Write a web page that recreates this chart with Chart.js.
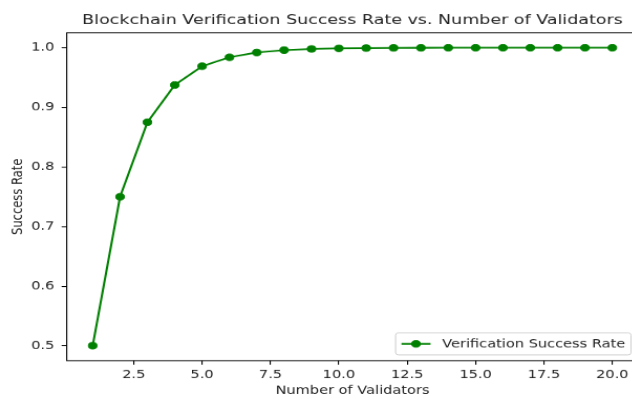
<!DOCTYPE html>
<html>
<head>
<meta charset="utf-8">
<script src="https://cdn.jsdelivr.net/npm/chart.js@4/dist/chart.umd.min.js"></script>
<style>
  html, body { margin: 0; padding: 0; background: #ffffff; overflow: hidden; }
  body { width: 632px; height: 398px; }
  #wrap { width: 630px; height: 480px; transform: scale(1.049, 0.82917); transform-origin: 0 0; }
</style>
</head>
<body>
<div id="wrap"><canvas id="chart" width="630" height="480"></canvas></div>
<script>
// Number of validators on the x axis
const validators = [1, 2, 3, 4, 5, 6, 7, 8, 9, 10, 11, 12, 13, 14, 15, 16, 17, 18, 19, 20];
// Verification success rate for each validator count
const successRate = [0.5, 0.75, 0.875, 0.9375, 0.969, 0.984, 0.992, 0.996, 0.998, 0.999,
                     0.9995, 0.9998, 0.9999, 1.0, 1.0, 1.0, 1.0, 1.0, 1.0, 1.0];
// Tick positions
const xTicks = [2.5, 5.0, 7.5, 10.0, 12.5, 15.0, 17.5, 20.0];
const yTicks = [0.5, 0.6, 0.7, 0.8, 0.9, 1.0];

const seriesLabel = 'Verification Success Rate';
const green = '#008000';
const FONT = "'DejaVu Sans', sans-serif";
const PT = 100 / 72; // px per point

// Frame on all four sides of the plot area
const framePlugin = {
  id: 'frame',
  afterDatasetsDraw(chart) {
    const { ctx, chartArea: a } = chart;
    ctx.save();
    ctx.strokeStyle = '#000';
    ctx.lineWidth = 0.8 * PT;
    ctx.strokeRect(a.left, a.top, a.right - a.left, a.bottom - a.top);
    ctx.restore();
  }
};

// Legend box in the lower-right corner of the plot area
const cornerLegend = {
  id: 'cornerLegend',
  afterDraw(chart) {
    const { ctx, chartArea: a } = chart;
    const fs = 10 * PT;
    const pad = 0.4 * fs, handle = 2.0 * fs, gap = 0.8 * fs, axPad = 0.5 * fs;
    ctx.save();
    ctx.font = `${fs}px ${FONT}`;
    const tw = ctx.measureText(seriesLabel).width;
    const w = pad + handle + gap + tw + pad;
    const h = 26.5;
    const x = a.right - axPad - w;
    const y = a.bottom - axPad - h;
    const r = 0.2 * fs;
    ctx.beginPath();
    ctx.moveTo(x + r, y);
    ctx.arcTo(x + w, y, x + w, y + h, r);
    ctx.arcTo(x + w, y + h, x, y + h, r);
    ctx.arcTo(x, y + h, x, y, r);
    ctx.arcTo(x, y, x + w, y, r);
    ctx.closePath();
    ctx.fillStyle = 'rgba(255,255,255,0.8)';
    ctx.fill();
    ctx.strokeStyle = '#cccccc';
    ctx.lineWidth = 1;
    ctx.stroke();
    const cy = y + h / 2;
    ctx.strokeStyle = green;
    ctx.lineWidth = 1.5 * PT;
    ctx.beginPath();
    ctx.moveTo(x + pad, cy);
    ctx.lineTo(x + pad + handle, cy);
    ctx.stroke();
    ctx.beginPath();
    ctx.arc(x + pad + handle / 2, cy, 4.1, 0, Math.PI * 2);
    ctx.fillStyle = green;
    ctx.fill();
    ctx.lineWidth = 1;
    ctx.stroke();
    ctx.fillStyle = '#222';
    ctx.textBaseline = 'middle';
    ctx.textAlign = 'left';
    ctx.fillText(seriesLabel, x + pad + handle + gap, cy + 0.5);
    ctx.restore();
  }
};

const tickFont = { family: FONT, size: 10 * PT };

new Chart(document.getElementById('chart'), {
  type: 'line',
  data: {
    datasets: [{
      label: seriesLabel,
      data: validators.map((v, i) => ({ x: v, y: successRate[i] })),
      borderColor: green,
      backgroundColor: green,
      borderWidth: 1.5 * PT,
      pointRadius: 4.1,
      pointHoverRadius: 4.1,
      pointBorderWidth: 1,
      pointBackgroundColor: green,
      pointBorderColor: green,
      tension: 0,
      fill: false
    }]
  },
  options: {
    responsive: false,
    animation: false,
    devicePixelRatio: 1,
    layout: { padding: { left: 0, right: 21.5, top: 0, bottom: 0 } },
    plugins: {
      legend: { display: false },
      tooltip: { enabled: false },
      title: {
        display: true,
        fullSize: false,
        text: 'Blockchain Verification Success Rate vs. Number of Validators',
        color: '#222',
        font: { family: FONT, size: 12 * PT, weight: 'normal' },
        padding: { top: 14.5, bottom: 5.1 }
      }
    },
    scales: {
      x: {
        type: 'linear',
        min: 0.05,
        max: 20.95,
        afterBuildTicks: s => { s.ticks = xTicks.map(v => ({ value: v })); },
        afterFit: s => { s.height = 45.1; },
        ticks: {
          color: '#222',
          font: tickFont,
          padding: 4,
          maxRotation: 0,
          autoSkip: false,
          callback: v => Number(v).toFixed(1)
        },
        grid: { display: true, drawOnChartArea: false, drawTicks: true, tickLength: 3.5 * PT, color: '#000', lineWidth: 0.8 * PT },
        border: { display: false },
        title: { display: true, text: 'Number of Validators', color: '#222', font: tickFont, padding: { top: 0, bottom: 0 } }
      },
      y: {
        type: 'linear',
        min: 0.475,
        max: 1.025,
        afterBuildTicks: s => { s.ticks = yTicks.map(v => ({ value: v })); },
        afterFit: s => { s.width = 63.6; },
        ticks: {
          color: '#222',
          font: tickFont,
          padding: 7,
          autoSkip: false,
          callback: v => Number(v).toFixed(1)
        },
        grid: { display: true, drawOnChartArea: false, drawTicks: true, tickLength: 3.5 * PT, color: '#000', lineWidth: 0.8 * PT },
        border: { display: false },
        title: { display: true, text: 'Success Rate', color: '#222', font: tickFont, padding: { top: 9.1, bottom: 0 } }
      }
    }
  },
  plugins: [framePlugin, cornerLegend]
});
</script>
</body>
</html>
